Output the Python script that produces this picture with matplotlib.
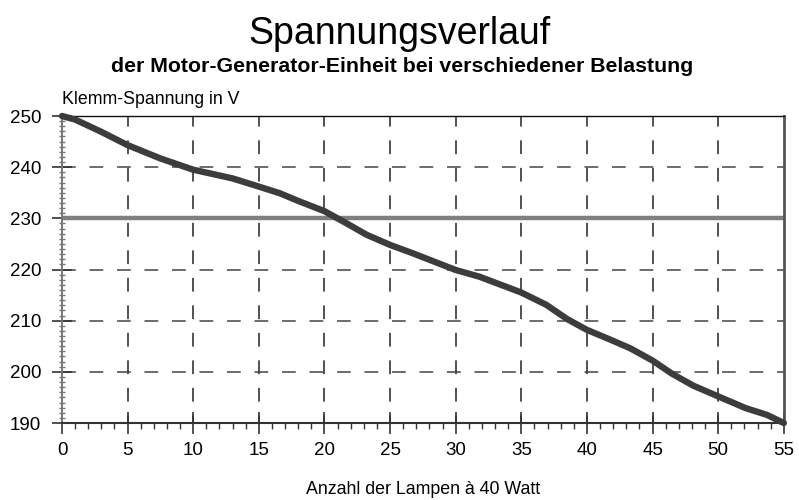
import matplotlib
matplotlib.use("Agg")
import matplotlib.pyplot as plt
from matplotlib.ticker import MultipleLocator

plt.rcParams["font.family"] = ["Liberation Sans", "DejaVu Sans"]

# Anzahl der Lampen (x) und Klemmspannung in V (y)
lampen = [0, 1, 3, 5, 7.5, 10, 13, 15, 16.6, 18, 20, 21.7, 23.2, 25, 26.7,
          30, 31.8, 35, 36.9, 38.5, 40, 41.5, 43.3, 45, 46.5, 48.1, 50,
          52.1, 53.7, 55]
spannung = [250, 249.3, 246.9, 244.3, 241.7, 239.5, 237.8, 236.2, 234.9,
            233.4, 231.4, 229.0, 226.8, 224.8, 223.2, 219.9, 218.6, 215.5,
            213.1, 210.3, 208.2, 206.6, 204.6, 202.2, 199.6, 197.3, 195.2,
            192.9, 191.6, 190]
grenze = 230

x_ticks = list(range(0, 56, 5))
y_ticks = list(range(190, 251, 10))

fig = plt.figure(figsize=(7.99, 5.0), dpi=100)
ax = fig.add_axes([0.0776, 0.154, 0.9034, 0.614])

ax.set_xlim(0, 55)
ax.set_ylim(190, 250)

# Gitter
for xv in x_ticks[1:-1]:
    ax.axvline(xv, color="#222222", lw=1.1, ls=(4, (9, 9)), zorder=1)
for yv in y_ticks[1:-1]:
    ax.axhline(yv, color="#444444", lw=1.1, ls=(0, (9, 9)), zorder=1)

ax.axhline(grenze, color="#7f7f7f", lw=3.2, zorder=2)
ax.plot(lampen, spannung, color="#3c3c3c", lw=4.6, solid_capstyle="round",
        solid_joinstyle="round", zorder=3, clip_on=False)

ax.set_xticks(x_ticks)
ax.set_yticks(y_ticks)
ax.xaxis.set_minor_locator(MultipleLocator(1))
ax.yaxis.set_minor_locator(MultipleLocator(1))
ax.tick_params(axis="x", which="major", direction="inout", length=16, width=1.2,
               color="#333333", labelsize=13.5, pad=6)
ax.tick_params(axis="x", which="minor", direction="out", length=4, width=1,
               color="#333333")
ax.tick_params(axis="y", which="major", direction="inout", length=14, width=1.2,
               color="#333333", labelsize=13.5, pad=8)
ax.tick_params(axis="y", which="minor", direction="inout", length=5, width=1,
               color="#777777")

ax.spines["left"].set_color("#777777")
ax.spines["left"].set_linewidth(1.4)
ax.spines["bottom"].set_color("#333333")
ax.spines["bottom"].set_linewidth(1.5)
ax.spines["top"].set_color("#111111")
ax.spines["top"].set_linewidth(1.0)
ax.spines["right"].set_color("#555555")
ax.spines["right"].set_linewidth(2.0)

fig.text(0.5, 0.932, "Spannungsverlauf", ha="center", va="center",
         fontsize=27)
fig.text(0.503, 0.868, "der Motor-Generator-Einheit bei verschiedener Belastung",
         ha="center", va="center", fontsize=15.3, fontweight="bold")
fig.text(0.078, 0.8, "Klemm-Spannung in V", ha="left", va="center",
         fontsize=12.8)
fig.text(0.53, 0.02, "Anzahl der Lampen à 40 Watt", ha="center",
         va="center", fontsize=12.8)

fig.savefig("out.png", dpi=100)
